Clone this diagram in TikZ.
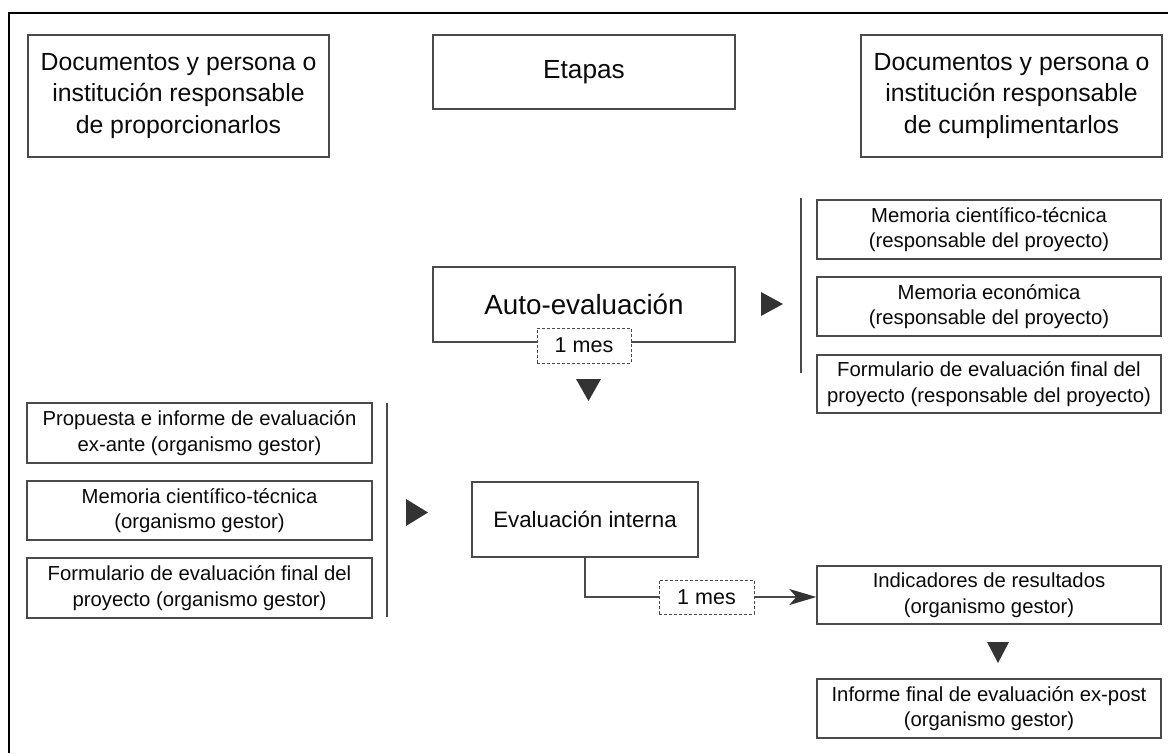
\documentclass[tikz,border=0pt]{standalone}
\usepackage{fontspec}
\setmainfont{Liberation Sans}
\usetikzlibrary{arrows.meta}
\definecolor{boxline}{HTML}{4A4A4A}
\definecolor{tri}{HTML}{333333}
\definecolor{txt}{HTML}{0A0A0A}
\tikzset{
  box/.style={draw=boxline, line width=1.4pt, fill=white, text=txt, align=center, inner sep=0pt},
  headbox/.style={box, font=\fontsize{24.8}{31.7}\selectfont},
  docbox/.style={box, minimum width=344pt, font=\fontsize{20.3}{25.7}\selectfont},
  mesbox/.style={draw=boxline, line width=1pt, dashed, dash pattern=on 3pt off 2pt, fill=white, text=txt, inner sep=0pt, font=\fontsize{21.5}{26}\selectfont},
  conn/.style={draw=boxline, line width=1.4pt},
  marker/.style={fill=tri, draw=none}
}
\begin{document}
\begin{tikzpicture}[x=1pt,y=-1pt]
\useasboundingbox (0,0) rectangle (1168,753);
% outer frame (cropped)
\draw[line width=2pt, black] (1168,13) -- (9,13) -- (9,753);

% headers
\node[headbox, minimum width=301pt, minimum height=122pt] (hl) at (178.5,96) {Documentos y persona o\\institución responsable\\de proporcionarlos};
\node[headbox, minimum width=302pt, minimum height=74pt, font=\fontsize{26.2}{31}\selectfont] (he) at (584,72) {Etapas};
\node[headbox, minimum width=301pt, minimum height=122pt] (hr) at (1011.5,96) {Documentos y persona o\\institución responsable\\de cumplimentarlos};

% auto-evaluacion
\node[box, minimum width=302pt, minimum height=75pt, font=\fontsize{27.8}{32}\selectfont] (auto) at (584,304.5) {Auto-evaluación};
\node[mesbox, minimum width=94pt, minimum height=35pt] (mesA) at (584,345.5) {1 mes};
\fill[marker] (576,379) -- (601,379) -- (588.5,401) -- cycle;
\fill[marker] (761,292) -- (761,316) -- (783,304) -- cycle;

% right documents
\coordinate (rvt) at (801,198);
\coordinate (rvb) at (801,373);
\draw[conn] (rvt) -- (rvb);
\node[docbox, minimum height=59pt] (r1) at (989,229.5) {Memoria científico-técnica\\(responsable del proyecto)};
\node[docbox, minimum height=59pt] (r2) at (989,306.5) {Memoria económica\\(responsable del proyecto)};
\node[docbox, minimum height=58pt] (r3) at (989,384) {Formulario de evaluación final del\\proyecto (responsable del proyecto)};

% left documents
\node[docbox, minimum width=345pt, minimum height=60pt] (l1) at (199.5,433) {Propuesta e informe de evaluación\\ex-ante (organismo gestor)};
\node[docbox, minimum width=345pt, minimum height=59pt] (l2) at (199.5,510.5) {Memoria científico-técnica\\(organismo gestor)};
\node[docbox, minimum width=345pt, minimum height=60pt] (l3) at (199.5,588) {Formulario de evaluación final del\\proyecto (organismo gestor)};
\coordinate (lvt) at (387,403);
\coordinate (lvb) at (387,617);
\draw[conn] (lvt) -- (lvb);
\fill[marker] (406,499) -- (406,526) -- (428,512.5) -- cycle;

% evaluacion interna
\node[box, minimum width=226pt, minimum height=75pt, font=\fontsize{22.3}{27}\selectfont] (ei) at (585,519.5) {Evaluación interna};
\node[mesbox, minimum width=95pt, minimum height=34pt] (mesB) at (706.5,597) {1 mes};
\node[docbox, minimum height=58pt] (ind) at (989,595) {Indicadores de resultados\\(organismo gestor)};
\draw[conn] (ei.south) |- (mesB.west);
\draw[conn, -{Stealth[length=27pt,width=16pt,inset=7pt,color=tri]}] (mesB.east) -- (mesB.east -| ind.west);
\fill[marker] (987,642) -- (1009,642) -- (998,663) -- cycle;
\node[docbox, minimum height=59pt] (inf) at (989,708.5) {Informe final de evaluación ex-post\\(organismo gestor)};
\end{tikzpicture}
\end{document}
